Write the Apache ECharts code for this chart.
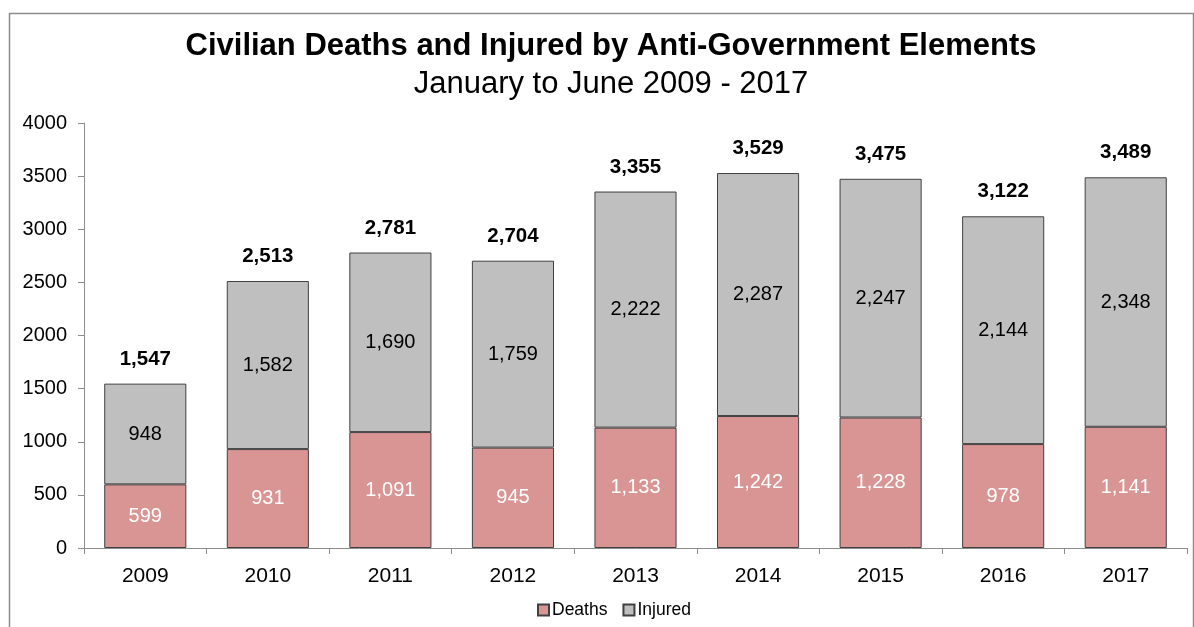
<!DOCTYPE html>
<html>
<head>
<meta charset="utf-8">
<script src="https://cdn.jsdelivr.net/npm/echarts@6/dist/echarts.min.js"></script>
<style>
  html, body { margin: 0; padding: 0; background: #fff; }
  #chart { width: 1194px; height: 627px; }
</style>
</head>
<body>
<div id="chart"></div>
<script>
// Civilian casualties attributed to anti-government elements, Jan-Jun each year
const years = ['2009', '2010', '2011', '2012', '2013', '2014', '2015', '2016', '2017'];
const deaths = [599, 931, 1091, 945, 1133, 1242, 1228, 978, 1141];
const injured = [948, 1582, 1690, 1759, 2222, 2287, 2247, 2144, 2348];
const yTicks = [0, 500, 1000, 1500, 2000, 2500, 3000, 3500, 4000];

const totals = years.map((_, i) => deaths[i] + injured[i]);
const fmt = v => v.toLocaleString('en-US');
const FONT = '"Liberation Sans", Arial, sans-serif';

const chart = echarts.init(document.getElementById('chart'));
chart.setOption({
  animation: false,
  backgroundColor: '#fff',
  textStyle: { fontFamily: FONT },
  graphic: [{
    type: 'rect',
    shape: { x: 9.5, y: 13.5, width: 1184, height: 640 },
    style: { fill: 'none', stroke: '#8c8c8c', lineWidth: 1.5 },
    silent: true
  }],
  title: {
    text: 'Civilian Deaths and Injured by Anti-Government Elements',
    subtext: 'January to June 2009 - 2017',
    left: 606, textAlign: 'center', top: 26,
    itemGap: 7,
    textStyle: { fontFamily: FONT, fontSize: 31, fontWeight: 'bold', color: '#000' },
    subtextStyle: { fontFamily: FONT, fontSize: 31, color: '#000' }
  },
  legend: {
    data: ['Deaths', 'Injured'],
    bottom: 3, left: 532,
    itemWidth: 11, itemHeight: 11, itemGap: 15,
    icon: 'rect',
    textStyle: { fontFamily: FONT, fontSize: 17.5, color: '#000', padding: [0, 0, 0, -2] }
  },
  grid: { left: 84, right: 7, top: 123, bottom: 79, containLabel: false },
  xAxis: {
    type: 'category',
    data: years,
    axisLine: { lineStyle: { color: '#8c8c8c', width: 1 } },
    axisTick: { show: true, length: 6, inside: false, lineStyle: { color: '#8c8c8c' } },
    axisLabel: { fontSize: 21, color: '#000', margin: 18 }
  },
  yAxis: {
    type: 'value',
    min: yTicks[0], max: yTicks[yTicks.length - 1], interval: 500,
    axisLine: { show: true, lineStyle: { color: '#8c8c8c', width: 1 } },
    axisTick: { show: true, length: 6, lineStyle: { color: '#8c8c8c' } },
    splitLine: { show: false },
    axisLabel: { fontSize: 20, color: '#000', margin: 17, formatter: v => String(v) }
  },
  series: [
    {
      name: 'Deaths', type: 'bar', stack: 'total', barWidth: '67%',
      data: deaths,
      itemStyle: { color: '#d99594', borderColor: '#404040', borderWidth: 1 },
      label: { show: true, position: 'inside', color: '#fff', fontSize: 20, formatter: p => fmt(p.value) }
    },
    {
      name: 'Injured', type: 'bar', stack: 'total',
      data: injured,
      itemStyle: { color: '#bfbfbf', borderColor: '#404040', borderWidth: 1 },
      label: { show: true, position: 'inside', color: '#000', fontSize: 20, formatter: p => fmt(p.value) }
    },
    {
      name: 'Total', type: 'bar', stack: 'total',
      data: totals.map(() => 0),
      itemStyle: { color: 'transparent', borderWidth: 0 },
      label: {
        show: true, position: 'top', distance: 14, color: '#000', fontSize: 20.5, fontWeight: 'bold',
        formatter: p => fmt(totals[p.dataIndex])
      },
      silent: true
    }
  ]
});
</script>
</body>
</html>
